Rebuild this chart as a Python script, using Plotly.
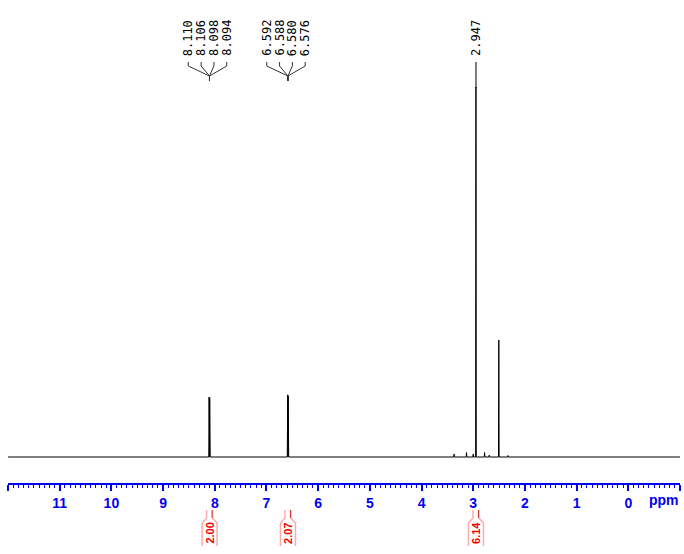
import plotly.graph_objects as go

# ---- data ----
peak_ppm = [8.110, 8.106, 8.098, 8.094, 6.592, 6.588, 6.580, 6.576,
            3.37, 3.13, 3.00, 2.947, 2.78, 2.69, 2.505, 2.33]
peak_height = [16.2, 16.2, 16.0, 16.0, 16.8, 16.8, 16.5, 16.5,
               0.8, 1.2, 0.8, 100.0, 1.2, 0.5, 31.6, 0.4]
label_group1 = ["8.110", "8.106", "8.098", "8.094"]
label_group2 = ["6.592", "6.588", "6.580", "6.576"]
label_single = ["2.947"]
integral_pos = [8.10, 6.584, 2.947]
integral_vals = ["2.00", "2.07", "6.14"]
tick_vals = list(range(-1, 13))
tick_text = ["" if v in (-1, 12) else str(v) for v in tick_vals]

# body margin is removed by post_script, so figure coords = page coords
W, H = 684, 554
ML, MR = 8, 684 - 680
MT = 0
AXIS_Y = 483           # page y of x-axis line
MB = H - AXIS_Y
X0, X1 = 12.0, -1.0
PW = W - ML - MR
PH = H - MT - MB
BASE_Y, TOP_Y = 457, 87   # page y of baseline and of 100-intensity
ppu = (BASE_Y - TOP_Y) / 100.0
Y1 = 100 + (TOP_Y - MT) / ppu
Y0 = -(AXIS_Y - BASE_Y) / ppu

def px(p):
    return ML + (X0 - p) * PW / (X0 - X1)

def xp(pxv):
    return (pxv - ML) / PW

def yp(pyv):
    return (H - MB - pyv) / PH

# build spectrum trace from the peak list
w = 0.006
pairs = sorted(zip(peak_ppm, peak_height), key=lambda t: -t[0])
xs, ys = [X0], [0.0]
for p, h in pairs:
    xs += [p + w, p, p - w]
    ys += [0.0, h, 0.0]
xs.append(X1)
ys.append(0.0)

fig = go.Figure()
fig.add_trace(go.Scatter(x=xs, y=ys, mode="lines",
                         line=dict(color="black", width=1), hoverinfo="skip",
                         showlegend=False))

shapes = []
annotations = []
mono = dict(family="DejaVu Sans Mono", size=12, color="black")
LBL_Y = 38

def add_group(labels, ppms):
    cx = px(sum(ppms) / len(ppms))
    n = len(labels)
    for i, t in enumerate(labels):
        lx = cx + (i - (n - 1) / 2) * 12.8 - 2
        annotations.append(dict(x=xp(lx), y=yp(LBL_Y), xref="paper", yref="paper",
                                text=t, showarrow=False, textangle=-90,
                                xanchor="center", yanchor="middle", font=mono))
        path = "M {},{} L {},{} L {},{} L {},{}".format(
            xp(lx), yp(62), xp(lx), yp(66), xp(cx), yp(76), xp(cx), yp(81))
        shapes.append(dict(type="path", path=path, xref="paper", yref="paper",
                           line=dict(color="#333333", width=1)))

add_group(label_group1, peak_ppm[0:4])
add_group(label_group2, peak_ppm[4:8])

# single label 2.947
sx = px(2.947)
annotations.append(dict(x=xp(sx), y=yp(LBL_Y), xref="paper", yref="paper",
                        text=label_single[0], showarrow=False, textangle=-90,
                        xanchor="center", yanchor="middle", font=mono))
shapes.append(dict(type="line", xref="paper", yref="paper",
                   x0=xp(sx), x1=xp(sx), y0=yp(62), y1=yp(88),
                   line=dict(color="black", width=1)))

# integral tags
for p, v in zip(integral_pos, integral_vals):
    cx = px(p)
    path = ("M {a},{t} L {a},{n} L {l},{f} L {l},{b} "
            "M {c},{t} L {c},{n} L {r},{f} L {r},{b}").format(
        a=xp(cx - 3), c=xp(cx + 3), l=xp(cx - 7.5), r=xp(cx + 7.5),
        t=yp(510), n=yp(518), f=yp(523), b=yp(546))
    shapes.append(dict(type="path", path=path, xref="paper", yref="paper",
                       line=dict(color="#ffaaaa", width=1.5)))
    shapes.append(dict(type="line", xref="paper", yref="paper",
                       x0=xp(cx + 2.5), x1=xp(cx + 2.5), y0=yp(510), y1=yp(518),
                       line=dict(color="#cc3333", width=1)))
    annotations.append(dict(x=xp(cx), y=yp(533), xref="paper", yref="paper",
                            text=v, showarrow=False, textangle=-90,
                            xanchor="center", yanchor="middle",
                            font=dict(family="Liberation Sans", size=11,
                                      color="#ee0000", weight="bold")))

annotations.append(dict(x=xp(664), y=yp(500), xref="paper", yref="paper",
                        text="ppm", showarrow=False, xanchor="center",
                        yanchor="middle",
                        font=dict(family="Liberation Sans", size=14,
                                  color="#0000ee", weight="bold")))

fig.update_layout(
    width=W, height=H,
    margin=dict(l=ML, r=MR, t=MT, b=MB, pad=0),
    paper_bgcolor="white", plot_bgcolor="white",
    shapes=shapes, annotations=annotations,
    xaxis=dict(range=[X0 + 0.0005, X1 - 0.0005], showgrid=False, zeroline=False,
               showline=True, linecolor="#0000ee", linewidth=2,
               ticks="outside", ticklen=6, tickwidth=1.5, tickcolor="#0000ee",
               tickvals=tick_vals, ticktext=tick_text,
               tickfont=dict(family="Liberation Sans", size=14, color="#0000ee",
                             weight="bold"),
               minor=dict(dtick=0.1, tick0=0, ticks="outside", ticklen=3,
                          tickwidth=1, tickcolor="#0000ee")),
    yaxis=dict(range=[Y0, Y1], visible=False, showgrid=False, zeroline=False),
)

fig.write_html(
    "out.html",
    config={"displayModeBar": False},
    post_script="document.body.style.margin='0';"
                "document.documentElement.style.overflow='hidden';",
)
